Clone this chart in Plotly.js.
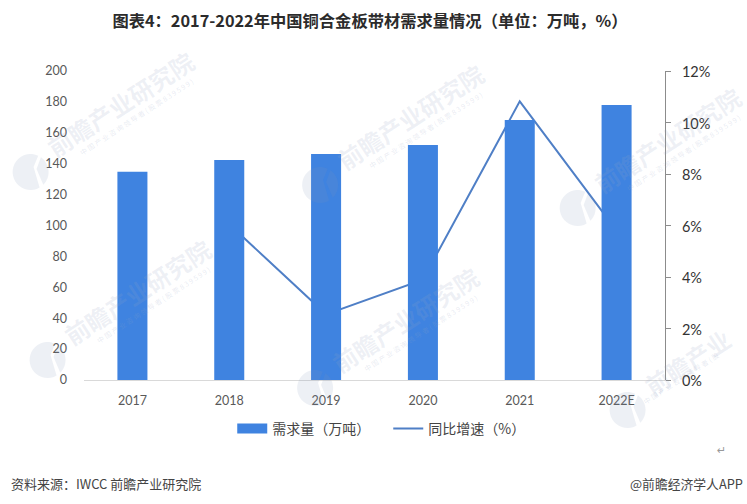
<!DOCTYPE html>
<html>
<head>
<meta charset="utf-8">
<script src="https://cdn.plot.ly/plotly-3.0.1.min.js"></script>
<style>html,body{margin:0;padding:0;background:#fff}#chart{width:747px;height:504px}
.legend .legendpoints path{d:path('M15,5H-15V-5H15Z')}</style>
</head>
<body>
<div id="chart"></div>
<script>
const categories = ['2017', '2018', '2019', '2020', '2021', '2022E'];
const demand = [134.8, 142.4, 146.3, 152.1, 168.3, 178];
const growth = [null, 6.05, 2.55, 3.9, 10.82, 5.8];
const leftTicks = [0, 20, 40, 60, 80, 100, 120, 140, 160, 180, 200];
const rightTicks = [0, 2, 4, 6, 8, 10, 12];
const rightTickLabels = ['0%', '2%', '4%', '6%', '8%', '10%', '12%'];

const CJK = '"Noto Sans CJK SC", sans-serif';
const NUM = 'Lato, "Noto Sans CJK SC", sans-serif';
const W = 747, H = 504, L = 83.5, R = 81.5, T = 71, B = 124;
const fx = p => (p - L) / (W - L - R);
const fy = p => (H - B - p) / (H - T - B);

const wmCentres = [[120,103],[410,116],[668,139],[137,291],[405,319],[718,341]];
const wmAnn = [], wmShapes = [];
function arcPath(cx, cy, r, a0, a1, closeTo) {
  let pts = [];
  for (let i = 0; i <= 24; i++) {
    const a = (a0 + (a1 - a0) * i / 24) * Math.PI / 180;
    pts.push([cx + r * Math.cos(a), cy + r * Math.sin(a)]);
  }
  if (closeTo) pts.push(closeTo);
  return 'M' + pts.map(q => fx(q[0]).toFixed(5) + ',' + fy(q[1]).toFixed(5)).join('L') + 'Z';
}
wmCentres.forEach((c, i) => {
  const cut = i === 5;
  const main = cut ? '前瞻产业' : '前瞻产业研究院';
  const sub = cut ? '中 国 产 业 咨 询 领 导 者 ( 股' : '中 国 产 业 咨 询 领 导 者 ( 股 票 8 3 9 5 9 9 )';
  const mx = cut ? 688 : c[0], my = cut ? 361 : c[1];
  const sx = cut ? 682 : c[0] + 16, sy = cut ? 364 : c[1] + 14;
  wmAnn.push({xref:'paper',yref:'paper',x:fx(mx),y:fy(my),text:'<b>' + main + '</b>',showarrow:false,
    textangle:-33,font:{family:CJK,size:24,color:'rgba(150,165,195,0.16)'},xanchor:'center',yanchor:'middle'});
  wmAnn.push({xref:'paper',yref:'paper',x:fx(sx),y:fy(sy + (cut ? 14 : 0)),text:sub,showarrow:false,
    textangle:-33,font:{family:CJK,size:7,color:'rgba(150,165,195,0.22)'},xanchor:'center',yanchor:'middle'});
  const lx = c[0] - 90, ly = c[1] + 69;
  wmShapes.push({type:'path',xref:'paper',yref:'paper',layer:'above',line:{width:0},fillcolor:'rgba(130,150,185,0.14)',
    path:arcPath(lx, ly, 18, 60, 295, [lx + 3, ly - 5])});
  wmShapes.push({type:'path',xref:'paper',yref:'paper',layer:'above',line:{width:0},fillcolor:'rgba(130,150,185,0.14)',
    path:arcPath(lx, ly, 18, -55, 45, [lx + 6, ly - 3])});
});

const data = [
  {type:'bar',name:'需求量（万吨）',x:categories,y:demand,yaxis:'y2',marker:{color:'#3f83e0',line:{width:0}},
   width:0.31,hoverinfo:'x+y'},
  {type:'scatter',mode:'lines',name:'同比增速（%）',x:categories,y:growth,yaxis:'y',
   line:{color:'#4f7fc6',width:2},hoverinfo:'x+y'}
];

const layout = {
  width:W,height:H,paper_bgcolor:'#fff',plot_bgcolor:'rgba(0,0,0,0)',
  margin:{l:L,r:R,t:T,b:B,pad:0},
  font:{family:CJK,color:'#444'},
  title:{text:'<b>图表4：2017-2022年中国铜合金板带材需求量情况（单位：万吨，%）</b>',
    font:{family:CJK,size:16.3,color:'#2b2b2b'},x:370/W,xanchor:'center',y:1-21/H,yanchor:'middle'},
  bargap:0.69,
  showlegend:true,
  legend:{orientation:'h',x:fx(232),xanchor:'left',y:fy(429),yanchor:'middle',
    font:{family:CJK,size:14,color:'#444'},itemwidth:30,entrywidth:111,entrywidthmode:'pixels',traceorder:'normal',bgcolor:'rgba(0,0,0,0)',itemclick:false,itemdoubleclick:false},
  xaxis:{type:'category',categoryorder:'array',categoryarray:categories,range:[-0.5,5.5],
    showline:true,linecolor:'#d9d9d9',linewidth:1,ticks:'',showgrid:false,zeroline:false,
    tickfont:{family:NUM,size:12.5,color:'#595959'},ticklabelstandoff:9},
  yaxis:{side:'right',range:[0,12],tickmode:'array',tickvals:rightTicks,ticktext:rightTickLabels,
    showline:true,linecolor:'#8c8c8c',linewidth:1,ticks:'outside',ticklen:5,tickcolor:'#8c8c8c',tickwidth:1,
    showgrid:false,zeroline:false,tickfont:{family:NUM,size:14.5,color:'#333'},ticklabelstandoff:8,ticklabelshift:1},
  yaxis2:{side:'left',overlaying:'y',anchor:'x',range:[0,200],tickmode:'array',tickvals:leftTicks,
    showline:false,ticks:'',showgrid:false,zeroline:false,tickfont:{family:NUM,size:12.5,color:'#595959'},ticklabelstandoff:16,ticklabelshift:2.5},
  shapes:wmShapes,
  annotations:wmAnn.concat([
    {xref:'paper',yref:'paper',x:fx(8),y:fy(483),text:'资料来源：IWCC 前瞻产业研究院',showarrow:false,xanchor:'left',yanchor:'middle',
      font:{family:CJK,size:13,color:'#444'}},
    {xref:'paper',yref:'paper',x:fx(746),y:fy(483),text:'@前瞻经济学人APP',showarrow:false,xanchor:'right',yanchor:'middle',
      font:{family:CJK,size:12.8,color:'#444'}},
    {xref:'paper',yref:'paper',x:fx(722),y:fy(450),text:'↵',showarrow:false,xanchor:'center',yanchor:'middle',
      font:{family:'"DejaVu Sans"',size:11,color:'#999'}}
  ])
};

Plotly.newPlot('chart', data, layout, {displayModeBar:false,responsive:false});
</script>
</body>
</html>
